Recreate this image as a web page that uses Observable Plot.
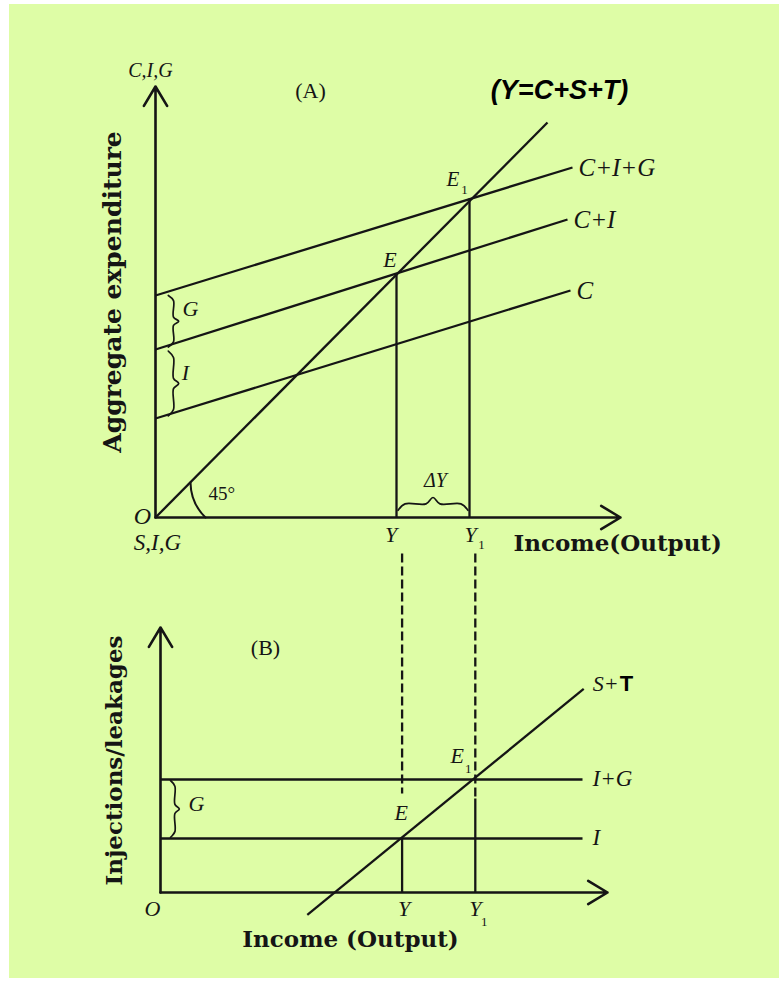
<!DOCTYPE html>
<html><head><meta charset="utf-8">
<script src="https://cdn.jsdelivr.net/npm/d3@7"></script>
<script src="https://cdn.jsdelivr.net/npm/@observablehq/plot@0.6"></script>
<style>
html,body{margin:0;padding:0;background:#fff;}
#page{position:relative;width:783px;height:982px;background:#fff;overflow:hidden;}
#bg{position:absolute;left:9px;top:4px;width:770px;height:974px;background:#defda6;}
#a{position:absolute;left:0;top:0;}
#b{position:absolute;left:0;top:540px;}
svg{overflow:visible;}
</style></head><body>
<div id="page"><div id="bg"></div><div id="a"></div><div id="b"></div></div>
<script>
// ---------- Panel A: aggregate expenditure ----------
const axisAMax = [116.25, 107.75];           // [income, expenditure]
const aeNames = ["C", "C+I", "C+I+G"];
const aeStart = [24.75, 42, 55.5];           // spending at zero income
const aeEndIncome = [103.75, 103, 104.25];
const aeEndSpending = [56.75, 74.5, 87.5];
const line45End = [98, 98.75];               // Y = C+S+T line end
const eqIncomeA = [60.25, 78.5];
const eqSpendingA = [61, 79.75];
const arc45 = [[12.5, 0], [8.75, 8.75]];
const braceAG = [55.5, 42.6];
const braceAI = [41.6, 25.4];

// ---------- Panel B: injections / leakages ----------
const axisBMax = [111.75, 66.25];
const injNames = ["I", "I+G"];
const injLevel = [13.5, 28.25];
const injEnd = 105.5;
const leakStart = [36.7, -5.6];
const leakEnd = [105.8, 50.9];
const eqIncomeB = [60.4, 78.7];
const dashTop = 84.75;
const dashBottom = [24.75, 23.5];
const solidTop = [13.5, 23.5];
const braceBG = [28.0, 13.8];

const ink = "#151515";
const serif = "'Liberation Serif','Times New Roman',serif";
const slab = "'DejaVu Serif',serif";
const sans = "'Liberation Sans',Arial,sans-serif";

function tag(x, y, text, o = {}) {
  return Plot.text([{x, y, text}], {x: "x", y: "y", text: "text", fill: ink,
    fontFamily: serif, fontStyle: "italic", fontSize: 22, ...o});
}
function braceV(x0, yTop, yBot, w) {
  const h = yTop - yBot, m = (yTop + yBot) / 2, q = h * 0.1;
  return [[x0, yTop], [x0 + w * 0.5, yTop - q], [x0 + w * 0.5, m + q * 0.8],
          [x0 + w, m], [x0 + w * 0.5, m - q * 0.8], [x0 + w * 0.5, yBot + q], [x0, yBot]];
}
function braceH(xL, xR, yBase, hgt) {
  const m = (xL + xR) / 2, q = (xR - xL) * 0.1;
  return [[xL, yBase], [xL + q, yBase + hgt * 0.5], [m - q, yBase + hgt * 0.5],
          [m, yBase + hgt], [m + q, yBase + hgt * 0.5], [xR - q, yBase + hgt * 0.5], [xR, yBase]];
}
const lineOpts = {x: d => d[0], y: d => d[1], curve: "catmull-rom", stroke: ink, strokeWidth: 1.7, fill: "none"};
const linkOpts = {x1: "x1", y1: "y1", x2: "x2", y2: "y2", stroke: ink};

// ---- Panel A
const aeRows = aeNames.map((name, i) => ({name, x1: 0, y1: aeStart[i], x2: aeEndIncome[i], y2: aeEndSpending[i]}));
const eqRowsA = eqIncomeA.map((x, i) => ({x1: x, y1: 0, x2: x, y2: eqSpendingA[i]}));

const A = Plot.plot({
  width: 783, height: 540,
  marginLeft: 155, marginRight: 163, marginTop: 86, marginBottom: 23,
  x: {domain: [0, axisAMax[0]], axis: null},
  y: {domain: [0, axisAMax[1]], axis: null},
  style: {background: "transparent", overflow: "visible"},
  marks: [
    Plot.arrow([{x1: 0, y1: 0, x2: axisAMax[0], y2: 0}, {x1: 0, y1: 0, x2: 0, y2: axisAMax[1]}],
      {...linkOpts, strokeWidth: 2.6, headLength: 13, headAngle: 62}),
    Plot.link([{x1: 0, y1: 0, x2: line45End[0], y2: line45End[1]}], {...linkOpts, strokeWidth: 2.3}),
    Plot.link(aeRows, {...linkOpts, strokeWidth: 2.3}),
    Plot.link(eqRowsA, {...linkOpts, strokeWidth: 2.3}),
    Plot.arrow([{x1: arc45[0][0], y1: arc45[0][1], x2: arc45[1][0], y2: arc45[1][1]}],
      {...linkOpts, strokeWidth: 2, bend: 22.5, headLength: 0}),
    Plot.line(braceV(3.2, braceAG[0], braceAG[1], 2.6), lineOpts),
    Plot.line(braceV(3.2, braceAI[0], braceAI[1], 2.6), lineOpts),
    Plot.line(braceH(eqIncomeA[0] + 0.4, eqIncomeA[1] - 0.4, 1.8, 3.2), lineOpts),
    // line labels
    Plot.text(aeRows, {x: "x2", y: "y2", text: "name", dx: 6, textAnchor: "start", fill: ink,
      fontFamily: serif, fontStyle: "italic", fontSize: 25}),
    tag(eqIncomeA[0], eqSpendingA[0], "E", {dx: -6.5, dy: -13.5, fontSize: 22}),
    tag(eqIncomeA[1], eqSpendingA[1], "E", {dx: -16.5, dy: -19, fontSize: 21}),
    tag(eqIncomeA[1], eqSpendingA[1], "1", {dx: -5, dy: -9, fontSize: 13, fontStyle: "normal"}),
    tag(eqIncomeA[0], 0, "Y", {dx: -5.5, dy: 17.5, fontSize: 22}),
    tag(eqIncomeA[1], 0, "Y", {dx: 1, dy: 17.5, fontSize: 22}),
    tag(eqIncomeA[1], 0, "1", {dx: 12, dy: 27, fontSize: 13, fontStyle: "normal"}),
    tag(0, 0, "O", {dx: -13, dy: -1, fontSize: 24}),
    tag(0, 0, "S,I,G", {dx: 2, dy: 25, fontSize: 23}),
    tag(0, 0, "45°", {dx: 53, dy: -24, fontSize: 19, fontStyle: "normal", textAnchor: "start"}),
    tag((eqIncomeA[0] + eqIncomeA[1]) / 2, 0, "ΔY", {dx: 2.5, dy: -37, fontSize: 20}),
    tag(0, (braceAG[0] + braceAG[1]) / 2, "G", {dx: 35, dy: -12, fontSize: 22}),
    tag(0, (braceAI[0] + braceAI[1]) / 2, "I", {dx: 30, dy: -11, fontSize: 22}),
    tag(0, axisAMax[1], "C,I,G", {dx: -5, dy: -16, fontSize: 20}),
    tag(0, axisAMax[1], "(A)", {dx: 155, dy: 4, fontSize: 22, fontStyle: "normal"}),
    tag(line45End[0], line45End[1], "(Y=C+S+T)", {dx: 12, dy: -32, fontSize: 27, fontFamily: sans, fontWeight: "bold", fill: "#000"}),
    tag(0, axisAMax[1] / 2, "Aggregate expenditure", {dx: -43, dy: -10, rotate: -90, fontSize: 25, fontFamily: slab, fontStyle: "normal", fontWeight: "bold"}),
    tag(axisAMax[0], 0, "Income(Output)", {dx: -107, dy: 26, textAnchor: "start", fontSize: 23, fontFamily: slab, fontStyle: "normal", fontWeight: "bold"})
  ]
});
document.getElementById("a").append(A);

// ---- Panel B
const injRows = injNames.map((name, i) => ({name, x1: 0, y1: injLevel[i], x2: injEnd, y2: injLevel[i]}));
const solidRows = eqIncomeB.map((x, i) => ({x1: x, y1: 0, x2: x, y2: solidTop[i]}));
const dashRows = eqIncomeB.map((x, i) => ({x1: x, y1: dashTop, x2: x, y2: dashBottom[i]}));

const B = Plot.plot({
  width: 783, height: 442,
  marginLeft: 160, marginRight: 176, marginTop: 87, marginBottom: 90,
  x: {domain: [0, axisBMax[0]], axis: null},
  y: {domain: [0, axisBMax[1]], axis: null},
  style: {background: "transparent", overflow: "visible"},
  marks: [
    Plot.arrow([{x1: 0, y1: 0, x2: axisBMax[0], y2: 0}, {x1: 0, y1: 0, x2: 0, y2: axisBMax[1]}],
      {...linkOpts, strokeWidth: 2.6, headLength: 13, headAngle: 62}),
    Plot.link(injRows, {...linkOpts, strokeWidth: 2.3}),
    Plot.link([{x1: leakStart[0], y1: leakStart[1], x2: leakEnd[0], y2: leakEnd[1]}], {...linkOpts, strokeWidth: 2.3}),
    Plot.link(solidRows, {...linkOpts, strokeWidth: 2.3}),
    Plot.link(dashRows, {...linkOpts, strokeWidth: 2.3, strokeDasharray: "9,4"}),
    Plot.line(braceV(2.5, braceBG[0], braceBG[1], 2.2), lineOpts),
    Plot.text(injRows, {x: "x2", y: "y2", text: "name", dx: 10, dy: -1, textAnchor: "start", fill: ink,
      fontFamily: serif, fontStyle: "italic", fontSize: 23}),
    tag(leakEnd[0], leakEnd[1], "S+", {dx: 9, dy: -5, textAnchor: "start", fontSize: 22}),
    tag(leakEnd[0], leakEnd[1], "T", {dx: 36, dy: -5, textAnchor: "start", fontSize: 22, fontFamily: sans, fontStyle: "normal", fontWeight: "bold", fill: "#000"}),
    tag(eqIncomeB[0], injLevel[0], "E", {dx: -1, dy: -26, fontSize: 22}),
    tag(eqIncomeB[1], injLevel[1], "E", {dx: -18, dy: -24, fontSize: 22}),
    tag(eqIncomeB[1], injLevel[1], "1", {dx: -7, dy: -11, fontSize: 13, fontStyle: "normal"}),
    tag(eqIncomeB[0], 0, "Y", {dx: 2, dy: 16.5, fontSize: 22}),
    tag(eqIncomeB[1], 0, "Y", {dx: 0, dy: 16.5, fontSize: 22}),
    tag(eqIncomeB[1], 0, "1", {dx: 9, dy: 29, fontSize: 13, fontStyle: "normal"}),
    tag(0, 0, "O", {dx: -8, dy: 16, fontSize: 22}),
    tag(0, (braceBG[0] + braceBG[1]) / 2, "G", {dx: 36, dy: -4.5, fontSize: 22}),
    tag(0, axisBMax[1], "(B)", {dx: 105, dy: 20, fontSize: 22, fontStyle: "normal"}),
    tag(0, axisBMax[1] / 2, "Injections/leakages", {dx: -46, dy: 0.5, rotate: -90, fontSize: 23, fontFamily: slab, fontStyle: "normal", fontWeight: "bold"}),
    tag(0, 0, "Income (Output)", {dx: 190, dy: 47, fontSize: 23, fontFamily: slab, fontStyle: "normal", fontWeight: "bold"})
  ]
});
document.getElementById("b").append(B);
</script>
</body></html>
